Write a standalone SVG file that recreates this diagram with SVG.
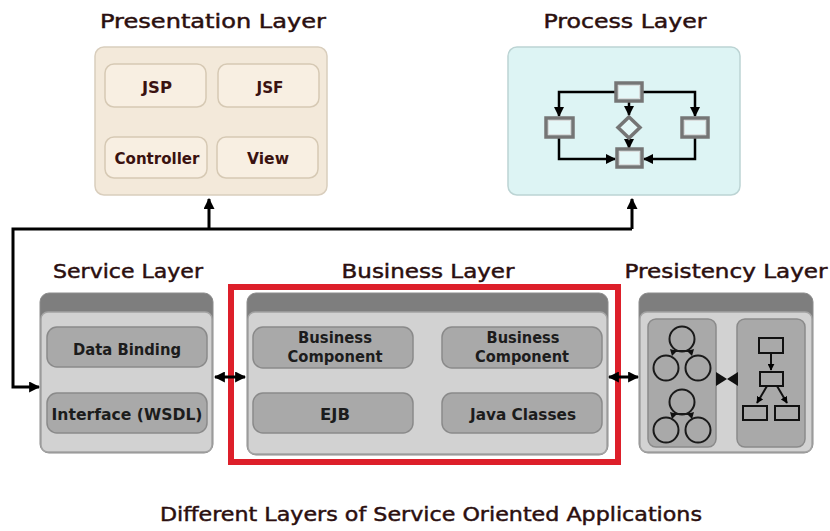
<svg xmlns="http://www.w3.org/2000/svg" width="830" height="531" viewBox="0 0 830 531">
  <defs>
    <style>
      .title { font-family: "DejaVu Sans", Verdana, sans-serif; font-size: 19px; fill: #2b0f0f; stroke: #2b0f0f; stroke-width: 0.45; text-anchor: middle; }
      .lbl { font-family: "DejaVu Sans", Verdana, sans-serif; font-size: 15px; font-weight: bold; text-anchor: middle; }
      .lbl-brown { fill: #3a1210; }
      .lbl-dark { fill: #1c1c1c; }
      .pres-panel { fill: #f3e9da; stroke: #d9cebd; stroke-width: 1.5; }
      .pres-item { fill: #f8efe2; stroke: #d6c9b4; stroke-width: 1.5; }
      .proc-panel { fill: #ddf4f4; stroke: #bcd4d4; stroke-width: 1.5; }
      .proc-box { fill: #e4f7f7; stroke: #757575; stroke-width: 3.5; }
      .proc-box-in { fill: none; stroke: #d8dcdc; stroke-width: 1; }
      .panel-head { fill: #7e7e7e; stroke: #8c8c8c; stroke-width: 1; }
      .panel-body { fill: #d2d2d2; stroke: #a3a3a3; stroke-width: 1.5; }
      .item { fill: #a9a9a9; stroke: #8a8a8a; stroke-width: 1.5; }
      .conn { fill: none; stroke: #000; stroke-width: 3; }
      .thin { fill: none; stroke: #000; stroke-width: 2.5; }
      .outline { fill: none; stroke: #111; stroke-width: 2; }
    </style>
    <marker id="arrow" viewBox="0 0 10 10" refX="9" refY="5" markerWidth="11" markerHeight="11" markerUnits="userSpaceOnUse" orient="auto-start-reverse">
      <path d="M0,0 L10,5 L0,10 z" fill="#000"/>
    </marker>
    <marker id="arrow-sm" viewBox="0 0 10 10" refX="9" refY="5" markerWidth="10" markerHeight="10" markerUnits="userSpaceOnUse" orient="auto-start-reverse">
      <path d="M0,0 L10,5 L0,10 z" fill="#000"/>
    </marker>
    <marker id="arrow-xs" viewBox="0 0 10 10" refX="9" refY="5" markerWidth="7" markerHeight="7" markerUnits="userSpaceOnUse" orient="auto-start-reverse">
      <path d="M0,0 L10,5 L0,10 z" fill="#000"/>
    </marker>
  </defs>

  <rect width="830" height="531" fill="#ffffff"/>

  <!-- Presentation layer -->
  <g id="presentation-layer">
    <text class="title" x="213" y="28" textLength="226" lengthAdjust="spacingAndGlyphs">Presentation Layer</text>
    <rect class="pres-panel" x="95" y="47" width="232" height="148" rx="9"/>
    <rect class="pres-item" x="105" y="64" width="101" height="43" rx="9"/>
    <rect class="pres-item" x="218" y="64" width="101" height="43" rx="9"/>
    <rect class="pres-item" x="105" y="137" width="102" height="41" rx="9"/>
    <rect class="pres-item" x="217" y="137" width="101" height="41" rx="9"/>
    <text class="lbl lbl-brown" x="157" y="93" textLength="30" lengthAdjust="spacingAndGlyphs">JSP</text>
    <text class="lbl lbl-brown" x="270" y="93" textLength="27" lengthAdjust="spacingAndGlyphs">JSF</text>
    <text class="lbl lbl-brown" x="157" y="164" textLength="85" lengthAdjust="spacingAndGlyphs">Controller</text>
    <text class="lbl lbl-brown" x="268" y="164" textLength="42" lengthAdjust="spacingAndGlyphs">View</text>
  </g>

  <!-- Process layer with a small workflow sketch -->
  <g id="process-layer">
    <text class="title" x="625" y="28" textLength="163" lengthAdjust="spacingAndGlyphs">Process Layer</text>
    <rect class="proc-panel" x="508" y="47" width="232" height="148" rx="9"/>
    <path class="thin" d="M616,92 H559 V116" marker-end="url(#arrow-sm)"/>
    <path class="thin" d="M642,92 H695 V116" marker-end="url(#arrow-sm)"/>
    <path class="thin" d="M629,101 V115" marker-end="url(#arrow-sm)"/>
    <path class="thin" d="M629,138 V148" marker-end="url(#arrow-sm)"/>
    <path class="thin" d="M559,137 V159 H615" marker-end="url(#arrow-sm)"/>
    <path class="thin" d="M695,137 V159 H644" marker-end="url(#arrow-sm)"/>
    <rect class="proc-box" x="616" y="83" width="26" height="18"/>
    <rect class="proc-box" x="546" y="118" width="27" height="19"/>
    <rect class="proc-box" x="682" y="118" width="26" height="19"/>
    <rect class="proc-box" x="617" y="149" width="25" height="18"/>
    <polygon class="proc-box" points="629,117 640,127.5 629,138 618,127.5"/>
    <rect class="proc-box-in" x="618.5" y="85.5" width="21" height="13"/>
    <rect class="proc-box-in" x="548.5" y="120.5" width="22" height="14"/>
    <rect class="proc-box-in" x="684.5" y="120.5" width="21" height="14"/>
    <rect class="proc-box-in" x="619.5" y="151.5" width="20" height="13"/>
  </g>

  <!-- Service layer -->
  <g id="service-layer">
    <text class="title" x="128" y="278" textLength="150" lengthAdjust="spacingAndGlyphs">Service Layer</text>
    <rect class="panel-head" x="40" y="293" width="173" height="160" rx="9"/>
    <rect class="panel-body" x="41" y="312" width="171" height="140" rx="7"/>
    <rect class="item" x="47" y="327" width="160" height="40" rx="10"/>
    <rect class="item" x="47" y="393" width="160" height="40" rx="10"/>
    <text class="lbl lbl-dark" x="127" y="355" textLength="108" lengthAdjust="spacingAndGlyphs">Data Binding</text>
    <text class="lbl lbl-dark" x="127" y="420" textLength="151" lengthAdjust="spacingAndGlyphs">Interface (WSDL)</text>
  </g>

  <!-- Business layer, framed in red -->
  <g id="business-layer">
    <text class="title" x="428" y="278" textLength="173" lengthAdjust="spacingAndGlyphs">Business Layer</text>
    <rect x="231" y="287" width="387" height="175" fill="#ffffff" stroke="#dd1f2a" stroke-width="6"/>
    <rect class="panel-head" x="247" y="293" width="361" height="162" rx="9"/>
    <rect class="panel-body" x="248" y="312" width="359" height="142" rx="7"/>
    <rect class="item" x="253" y="327" width="160" height="41" rx="10"/>
    <rect class="item" x="442" y="327" width="160" height="41" rx="10"/>
    <rect class="item" x="253" y="393" width="160" height="40" rx="10"/>
    <rect class="item" x="442" y="393" width="160" height="40" rx="10"/>
    <text class="lbl lbl-dark" x="335" y="343" textLength="74" lengthAdjust="spacingAndGlyphs">Business</text>
    <text class="lbl lbl-dark" x="335" y="362" textLength="95" lengthAdjust="spacingAndGlyphs">Component</text>
    <text class="lbl lbl-dark" x="523" y="343" textLength="73" lengthAdjust="spacingAndGlyphs">Business</text>
    <text class="lbl lbl-dark" x="522" y="362" textLength="94" lengthAdjust="spacingAndGlyphs">Component</text>
    <text class="lbl lbl-dark" x="335" y="420" textLength="30" lengthAdjust="spacingAndGlyphs">EJB</text>
    <text class="lbl lbl-dark" x="523" y="420" textLength="106" lengthAdjust="spacingAndGlyphs">Java Classes</text>
  </g>

  <!-- Persistency layer -->
  <g id="persistency-layer">
    <text class="title" x="726" y="278" textLength="203" lengthAdjust="spacingAndGlyphs">Presistency Layer</text>
    <rect class="panel-head" x="639" y="293" width="174" height="160" rx="9"/>
    <rect class="panel-body" x="640" y="312" width="172" height="140" rx="7"/>
    <rect class="item" x="648" y="319" width="68" height="128" rx="8"/>
    <rect class="item" x="737" y="319" width="68" height="128" rx="8"/>
    <!-- object trees -->
    <g fill="none" stroke="#1a1a1a" stroke-width="2">
      <circle cx="682" cy="339" r="12.5"/>
      <circle cx="666" cy="368" r="12.5"/>
      <circle cx="698" cy="368" r="12.5"/>
      <circle cx="682" cy="402" r="12.5"/>
      <circle cx="666" cy="430" r="12.5"/>
      <circle cx="698" cy="430" r="12.5"/>
      <path d="M673,351 H691"/>
      <path d="M673,414 H691"/>
    </g>
    <g fill="#111">
      <polygon points="670,349 677,351 672,356"/>
      <polygon points="694,349 687,351 692,356"/>
      <polygon points="670,412 677,414 672,419"/>
      <polygon points="694,412 687,414 692,419"/>
    </g>
    <!-- mapping between objects and tables -->
    <polygon points="716,372 716,386 727,379" fill="#111"/>
    <polygon points="738,372 738,386 727,379" fill="#111"/>
    <!-- table hierarchy -->
    <rect class="outline" x="759" y="338" width="24" height="15"/>
    <rect class="outline" x="760" y="372" width="23" height="14"/>
    <rect class="outline" x="743" y="406" width="24" height="14"/>
    <rect class="outline" x="775" y="406" width="24" height="14"/>
    <path class="outline" d="M771,353 V370" marker-end="url(#arrow-xs)"/>
    <path class="outline" d="M767,386 L757,403" marker-end="url(#arrow-xs)"/>
    <path class="outline" d="M777,386 L787,403" marker-end="url(#arrow-xs)"/>
  </g>

  <!-- Connectors between layers -->
  <g id="connectors">
    <path class="conn" d="M209,229 V199" marker-end="url(#arrow)"/>
    <path class="conn" d="M632,229 V199" marker-end="url(#arrow)"/>
    <path class="conn" d="M632,229 H13 V387 H39" marker-end="url(#arrow)"/>
    <path class="conn" d="M215,377 H245" marker-start="url(#arrow)" marker-end="url(#arrow)"/>
    <path class="conn" d="M609,377 H638" marker-start="url(#arrow)" marker-end="url(#arrow)"/>
  </g>

  <text class="title" x="431" y="521" textLength="542" lengthAdjust="spacingAndGlyphs">Different Layers of Service Oriented Applications</text>
</svg>
